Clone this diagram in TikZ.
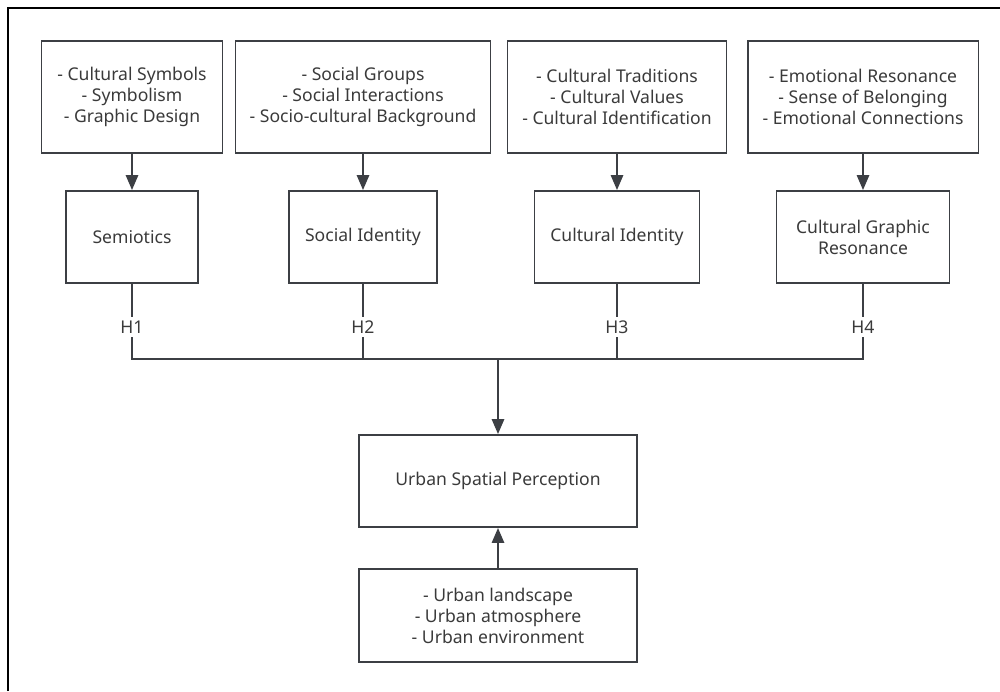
\documentclass[tikz,border=0pt]{standalone}
\usepackage{fontspec}
\setmainfont{Noto Sans}
\usetikzlibrary{arrows.meta}
\definecolor{linegray}{HTML}{3C3F44}
\definecolor{textgray}{HTML}{3A3A3A}

\begin{document}
\begin{tikzpicture}[x=0.02cm,y=-0.02cm,
        box/.style={draw=linegray, line width=1.1pt, text=textgray, align=center, inner sep=0pt, font=\fontsize{10}{11.9}\selectfont},
        hlabel/.style={text=textgray, inner sep=2pt, font=\fontsize{10}{11.9}\selectfont},
        conn/.style={draw=linegray, line width=1.1pt},
        arr/.style={conn, -{Triangle[length=8.5pt,width=7pt]}}]
        \useasboundingbox (0,0) rectangle (1000,691);
        \draw[line width=1.5pt, black] (8,691) -- (8,8) -- (1000,8);

        % top row: aspects
        \node[box, minimum width=3.62cm, minimum height=2.24cm] (symbols) at (132,97) {- Cultural Symbols\\- Symbolism\\- Graphic Design};
        \node[box, minimum width=5.10cm, minimum height=2.24cm] (groups) at (363,97) {- Social Groups\\- Social Interactions\\- Socio-cultural Background};
        \node[box, minimum width=4.38cm, minimum height=2.24cm] (traditions) at (617,97) {- Cultural Traditions\\- Cultural Values\\- Cultural Identification};
        \node[box, minimum width=4.62cm, minimum height=2.24cm] (emotions) at (863,97) {- Emotional Resonance\\- Sense of Belonging\\- Emotional Connections};

        % middle row: theories
        \node[box, minimum width=2.64cm, minimum height=1.84cm] (semiotics) at (132,237) {Semiotics};
        \node[box, minimum width=2.96cm, minimum height=1.84cm] (socialid) at (363,237) {Social Identity};
        \node[box, minimum width=3.30cm, minimum height=1.84cm] (culturalid) at (617,237) {Cultural Identity};
        \node[box, minimum width=3.46cm, minimum height=1.84cm] (resonance) at (863,237) {Cultural Graphic\\Resonance};

        % hypotheses
        \node[hlabel] (h1) at (132,327) {H1}; \node[hlabel] (h2) at (363,327) {H2};
        \node[hlabel] (h3) at (617,327) {H3}; \node[hlabel] (h4) at (863,327) {H4};
        \coordinate (bus) at (498,359);

        % outcome
        \node[box, minimum width=5.56cm, minimum height=1.84cm] (perception) at (498,481) {Urban Spatial Perception};
        \node[box, minimum width=5.56cm, minimum height=1.86cm] (urban) at (498,615.5) {- Urban landscape\\- Urban atmosphere\\- Urban environment};

        \draw[arr] (symbols) -- (semiotics); \draw[arr] (groups) -- (socialid);
        \draw[arr] (traditions) -- (culturalid); \draw[arr] (emotions) -- (resonance);
        \draw[conn] (semiotics) -- (h1) -- (h1 |- bus) -- (h4 |- bus) -- (h4) -- (resonance);
        \draw[conn] (socialid) -- (h2) -- (h2 |- bus); \draw[conn] (culturalid) -- (h3) -- (h3 |- bus);
        \draw[arr] (bus) -- (perception);
        \draw[arr] (urban) -- (perception);
    \end{tikzpicture}
\end{document}
